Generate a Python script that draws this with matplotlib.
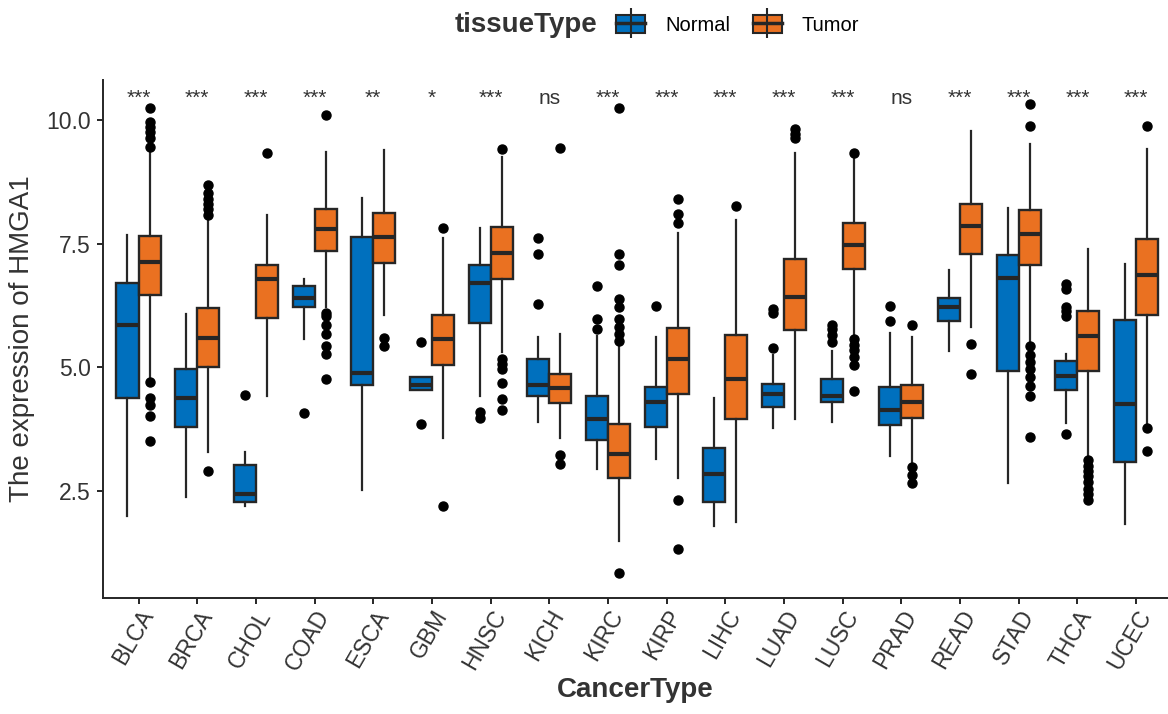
import matplotlib
matplotlib.use("Agg")
import matplotlib.pyplot as plt
from matplotlib.patches import Patch
from matplotlib.lines import Line2D
from matplotlib.transforms import ScaledTranslation

plt.rcParams['font.family'] = ['Liberation Sans', 'DejaVu Sans']

cancer_types = ['BLCA', 'BRCA', 'CHOL', 'COAD', 'ESCA', 'GBM', 'HNSC', 'KICH', 'KIRC',
                'KIRP', 'LIHC', 'LUAD', 'LUSC', 'PRAD', 'READ', 'STAD', 'THCA', 'UCEC']
signif = ['***', '***', '***', '***', '**', '*', '***', 'ns', '***',
          '***', '***', '***', '***', 'ns', '***', '***', '***', '***']

# Normal: whisker low, q1, median, q3, whisker high
normal_lo = [2.00, 2.38, 2.20, 5.58, 2.52, 4.55, 4.42, 3.90, 2.95, 3.14, 1.80, 3.77, 3.90, 3.21, 5.34, 2.67, 3.88, 1.84]
normal_q1 = [4.38, 3.80, 2.28, 6.22, 4.65, 4.55, 5.89, 4.43, 3.53, 3.80, 2.29, 4.20, 4.31, 3.84, 5.94, 4.92, 4.55, 3.08]
normal_med = [5.86, 4.38, 2.44, 6.41, 4.88, 4.65, 6.70, 4.65, 3.96, 4.31, 2.85, 4.47, 4.42, 4.14, 6.23, 6.81, 4.83, 4.26]
normal_q3 = [6.71, 4.96, 3.03, 6.65, 7.64, 4.80, 7.08, 5.17, 4.43, 4.60, 3.37, 4.67, 4.76, 4.61, 6.40, 7.28, 5.14, 5.95]
normal_hi = [7.68, 6.09, 3.29, 6.79, 8.42, 4.80, 7.82, 5.61, 5.63, 5.62, 4.38, 5.26, 5.34, 5.69, 6.97, 8.22, 5.27, 7.10]
normal_out = [[], [], [4.44], [4.07], [], [5.52, 3.86], [4.09, 3.98], [7.61, 7.30, 6.29],
              [6.64, 5.97, 5.77], [6.25], [], [6.18, 6.11, 5.40], [5.86, 5.77, 5.66, 5.51],
              [6.25, 5.94], [], [], [6.69, 6.58, 6.23, 6.15, 6.04, 3.66], []]

# Tumor
tumor_lo = [4.80, 3.30, 4.42, 6.22, 6.07, 3.57, 5.32, 3.57, 1.50, 2.77, 1.87, 3.95, 5.61, 3.01, 5.82, 5.50, 3.19, 3.84]
tumor_q1 = [6.47, 5.01, 6.00, 7.36, 7.12, 5.04, 6.79, 4.29, 2.77, 4.47, 3.95, 5.75, 6.99, 3.98, 7.30, 7.08, 4.92, 6.06]
tumor_med = [7.14, 5.60, 6.79, 7.79, 7.64, 5.57, 7.32, 4.58, 3.26, 5.17, 4.76, 6.42, 7.48, 4.31, 7.86, 7.69, 5.64, 6.87]
tumor_q3 = [7.66, 6.20, 7.08, 8.20, 8.13, 6.07, 7.84, 4.86, 3.86, 5.79, 5.66, 7.20, 7.91, 4.65, 8.31, 8.18, 6.15, 7.60]
tumor_hi = [9.40, 7.95, 8.09, 9.35, 9.39, 7.62, 9.26, 5.68, 5.43, 7.71, 7.98, 9.33, 9.21, 5.62, 9.78, 9.51, 7.39, 9.42]
tumor_out = [[10.25, 9.96, 9.86, 9.75, 9.64, 9.46, 4.70, 4.38, 4.24, 4.02, 3.52],
             [8.69, 8.52, 8.41, 8.31, 8.20, 8.09, 2.90],
             [9.34],
             [10.10, 6.10, 6.04, 5.86, 5.68, 5.43, 5.28, 4.76],
             [5.60, 5.43],
             [7.82, 2.20],
             [9.41, 5.17, 5.06, 4.96, 4.68, 4.37, 4.13],
             [9.44, 3.23, 3.05],
             [10.25, 7.30, 7.08, 6.38, 6.22, 5.97, 5.82, 5.68, 5.53, 0.84],
             [8.41, 8.11, 7.91, 2.33, 1.33],
             [8.27],
             [9.81, 9.71, 9.64],
             [9.33, 5.57, 5.46, 5.35, 5.22, 5.04, 4.52],
             [5.86, 2.98, 2.83, 2.67],
             [5.48, 4.86],
             [10.32, 9.89, 5.43, 5.26, 5.10, 4.96, 4.81, 4.63, 4.42, 3.60],
             [3.12, 3.01, 2.90, 2.80, 2.69, 2.54, 2.44, 2.33],
             [9.89, 3.77, 3.32]]

blue = '#0070BE'
orange = '#EA7121'
edge = '#262626'
txt = '#333333'


def make_stats(lo, q1, med, q3, hi, out):
    return [dict(whislo=a, q1=b, med=c, q3=d, whishi=e, fliers=f)
            for a, b, c, d, e, f in zip(lo, q1, med, q3, hi, out)]


fig = plt.figure(figsize=(11.68, 7.14), dpi=100)
ax = fig.add_axes([103 / 1168, 1 - 597.5 / 714, 1 - 103 / 1168, (597.5 - 80) / 714])

x = list(range(len(cancer_types)))
groups = [(make_stats(normal_lo, normal_q1, normal_med, normal_q3, normal_hi, normal_out), -0.1875, blue),
          (make_stats(tumor_lo, tumor_q1, tumor_med, tumor_q3, tumor_hi, tumor_out), 0.1875, orange)]
for stats, off, col in groups:
    ax.bxp(stats, positions=[i + off for i in x], widths=0.375, patch_artist=True,
           showcaps=False, manage_ticks=False,
           boxprops=dict(facecolor=col, edgecolor=edge, linewidth=1.7),
           medianprops=dict(color=edge, linewidth=3.0, solid_capstyle='butt'),
           whiskerprops=dict(color=edge, linewidth=1.6),
           flierprops=dict(marker='o', markerfacecolor='black', markeredgecolor='black',
                           markersize=6.5))

for i, s in enumerate(signif):
    ax.text(i, 10.33, s, ha='center', va='baseline', fontsize=15, color=txt)

ax.set_xlim(-0.605, 17.545)
ax.set_ylim(0.35, 10.81)
ax.set_yticks([2.5, 5.0, 7.5, 10.0])
ax.set_yticklabels(['2.5', '5.0', '7.5', '10.0'])
ax.set_xticks(x)
ax.set_xticklabels(cancer_types, rotation=60, ha='right', va='top', rotation_mode='anchor')
shift = ScaledTranslation(0.10, -0.04, fig.dpi_scale_trans)
for lab in ax.get_xticklabels():
    lab.set_transform(lab.get_transform() + shift)
for sp in ['top', 'right']:
    ax.spines[sp].set_visible(False)
for sp in ['left', 'bottom']:
    ax.spines[sp].set_linewidth(1.4)
    ax.spines[sp].set_color(edge)
ax.tick_params(axis='both', labelsize=16.5, labelcolor=txt, color=edge, width=1.4, length=4)
ax.tick_params(axis='x', pad=2)
ax.tick_params(axis='y', pad=5)
ax.set_ylabel('The expression of HMGA1', fontsize=20, color=txt, labelpad=8)
ax.set_xlabel('CancerType', fontsize=20, fontweight='bold', color=txt, labelpad=2)

# legend on top
fig.text(526 / 1168, 1 - 25 / 714, 'tissueType', fontsize=20, fontweight='bold',
         color=txt, ha='center', va='center')
handles = []
for col in [blue, orange]:
    handles.append((Patch(facecolor=col, edgecolor=edge, linewidth=1.5),
                    Line2D([], [], color=edge, linewidth=2.5),
                    Line2D([], [], linestyle='none', marker='|', markersize=22,
                           markeredgecolor=edge, markeredgewidth=1.5)))
fig.legend(handles, ['Normal', 'Tumor'], loc='center left',
           bbox_to_anchor=(608 / 1168, 1 - 25 / 714), ncol=2, frameon=False,
           fontsize=14.5, handlelength=1.45, handleheight=1.0, columnspacing=1.1,
           handletextpad=1.0, borderaxespad=0)

fig.savefig('out.png', dpi=100)
